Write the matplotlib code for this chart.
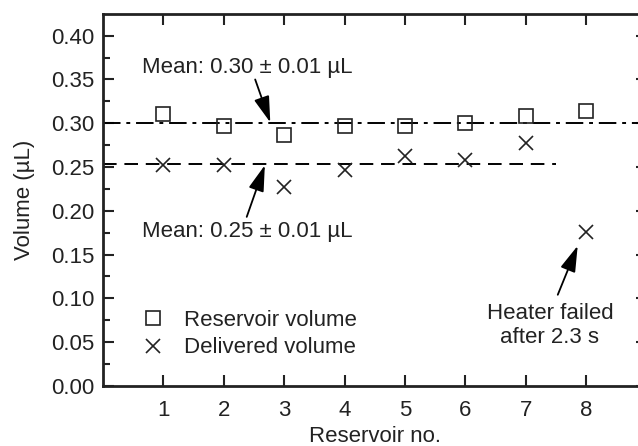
import numpy as np
import matplotlib.pyplot as plt

plt.rcParams["font.family"] = ["Liberation Sans", "DejaVu Sans"]
plt.rcParams["font.size"] = 16

# reservoir number vs volumes
reservoir = [1, 2, 3, 4, 5, 6, 7, 8]
reservoir_vol = [0.311, 0.297, 0.287, 0.297, 0.297, 0.300, 0.308, 0.314]
delivered_vol = [0.252, 0.252, 0.227, 0.247, 0.262, 0.258, 0.277, 0.176]

mean_reservoir = 0.30
mean_delivered = 0.253
delivered_line_end = 7.5

fig = plt.figure(figsize=(6.38, 4.46), dpi=100)
ax = fig.add_axes([0.1614, 0.135, 0.852, 0.834])

ax.plot([0, 9], [mean_reservoir, mean_reservoir], color="black", lw=1.4,
        linestyle=(0, (9, 3, 2, 3)))
ax.plot([0, delivered_line_end], [mean_delivered, mean_delivered], color="black",
        lw=1.4, linestyle=(0, (7, 4)))

ax.plot(reservoir, reservoir_vol, linestyle="none", marker="s", ms=10,
        mfc="none", mec="#222222", mew=1.2, label="Reservoir volume")
ax.plot(reservoir, delivered_vol, linestyle="none", marker="x", ms=10,
        mec="#222222", mew=1.2, label="Delivered volume")

arrow = dict(arrowstyle="-|>,head_length=1.0,head_width=0.3", color="black",
             lw=1.3, shrinkA=0, shrinkB=0)
ax.annotate("", xy=(2.77, 0.301), xytext=(2.52, 0.350), arrowprops=arrow)
ax.text(2.39, 0.3635, "Mean: 0.30 ± 0.01 µL", ha="center", va="center", color="#222222")
ax.annotate("", xy=(2.68, 0.252), xytext=(2.38, 0.193), arrowprops=arrow)
ax.text(2.39, 0.176, "Mean: 0.25 ± 0.01 µL", ha="center", va="center", color="#222222")
ax.annotate("", xy=(7.86, 0.160), xytext=(7.53, 0.104), arrowprops=arrow)
ax.text(7.40, 0.069, "Heater failed\nafter 2.3 s", ha="center", va="center",
        linespacing=1.15, color="#222222")

ax.set_xlim(0, 9)
ax.set_ylim(0, 0.425)
ax.set_xticks(reservoir)
ax.set_yticks(np.arange(0, 0.401, 0.05))
ax.set_yticks(np.arange(0.025, 0.425, 0.05), minor=True)
ax.yaxis.set_major_formatter(plt.FormatStrFormatter("%.2f"))
ax.tick_params(which="both", direction="in", top=True, right=True, width=1.5,
               colors="#222222", labelcolor="#222222")
ax.tick_params(which="major", length=8, pad=6)
ax.tick_params(axis="x", which="major", pad=10)
ax.tick_params(which="minor", length=5)
for s in ax.spines.values():
    s.set_linewidth(2)
    s.set_color("#222222")

ax.set_xlabel("Reservoir no.", color="#222222", labelpad=4)
ax.set_ylabel("Volume (µL)", color="#222222", labelpad=12)

ax.legend(loc="lower left", bbox_to_anchor=(0.035, 0.02), frameon=False,
          handlelength=1.0, handletextpad=0.9, labelspacing=0.3,
          labelcolor="#222222")

plt.savefig("out.png", dpi=100)
